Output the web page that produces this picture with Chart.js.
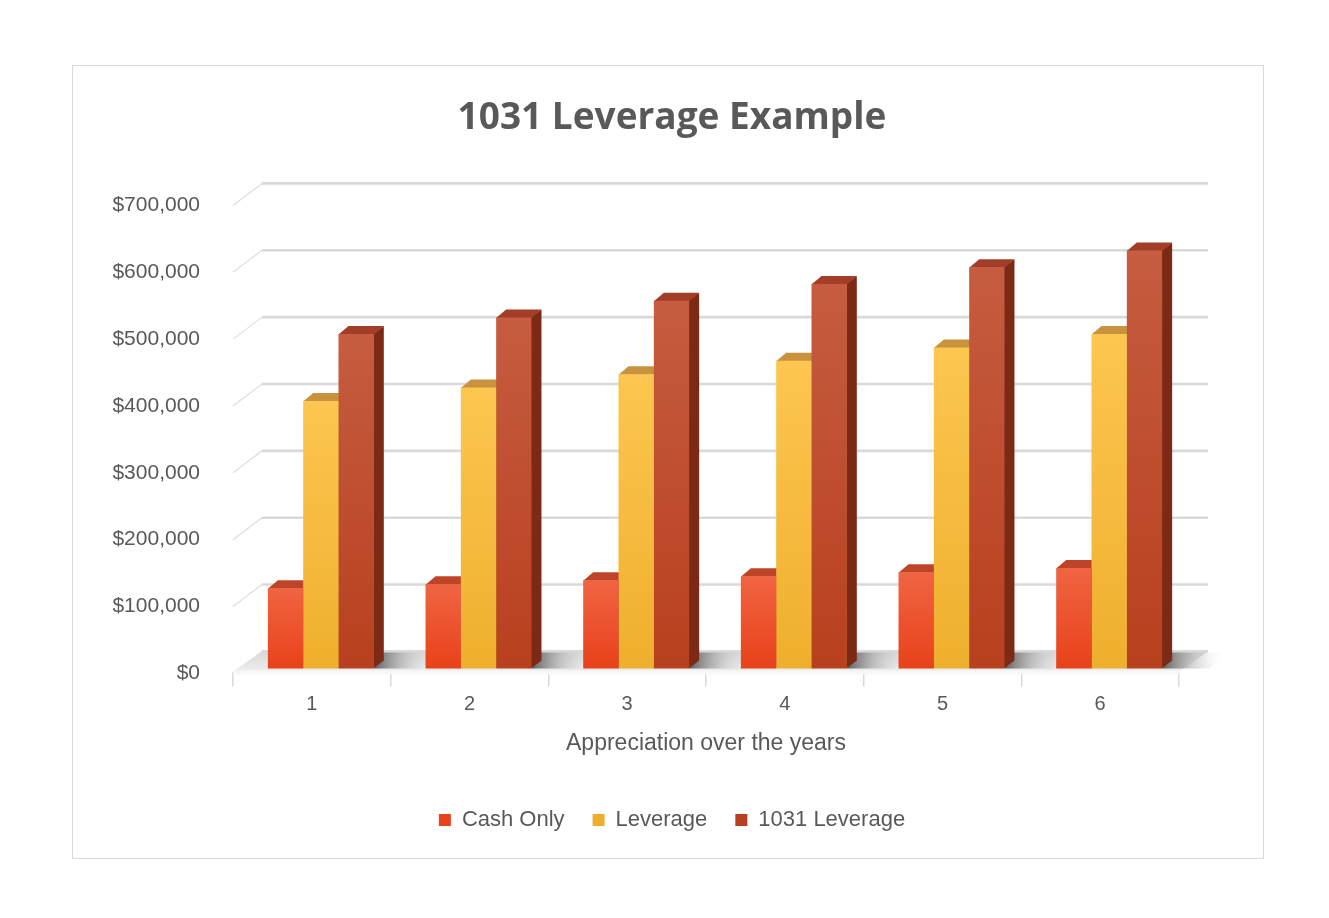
<!DOCTYPE html>
<html><head><meta charset="utf-8">
<script src="https://cdn.jsdelivr.net/npm/chart.js@4.4.1/dist/chart.umd.min.js"></script>
<style>html,body{margin:0;padding:0;background:#fff;}</style>
</head><body>
<canvas id="c" width="1329" height="918"></canvas>
<script>
const categories = ['1', '2', '3', '4', '5', '6'];
const cashOnly = [120000, 126000, 132000, 138000, 144000, 150000];
const leverage = [400000, 420000, 440000, 460000, 480000, 500000];
const leverage1031 = [500000, 525000, 550000, 575000, 600000, 625000];
const seriesNames = ['Cash Only', 'Leverage', '1031 Leverage'];
const yMin = 0, yMax = 700000, yStep = 100000;

const palette = [
  {top: '#F06442', bottom: '#E8421A', solid: '#E8461E', cap: '#BE4428', side: '#A0361E'},
  {top: '#FCC650', bottom: '#EFAF2E', solid: '#F2B536', cap: '#C8923E', side: '#B07A2A'},
  {top: '#C65C40', bottom: '#B8401E', solid: '#B94522', cap: '#A23E28', side: '#7C2A16'}
];
const DEPTH = {dx: 10, dy: -8};
const SHIFT = {x: 9, y: -5};
const WALL = {dx: 29, dy: -22};
const GRID = '#d9d9d9';
const TEXT = '#595959';

function frontFill(i) {
  return function (ctx) {
    if (ctx.type !== 'data') return palette[i].solid;
    const chart = ctx.chart, ys = chart.scales.y;
    if (!ys || !chart.chartArea) return palette[i].solid;
    const top = ys.getPixelForValue(ctx.raw), base = ys.getPixelForValue(0);
    const g = chart.ctx.createLinearGradient(0, top, 0, base);
    g.addColorStop(0, palette[i].top);
    g.addColorStop(1, palette[i].bottom);
    return g;
  };
}

const scene = {
  id: 'scene',
  beforeDraw(chart) {
    const c = chart.ctx;
    c.save();
    c.fillStyle = '#fff';
    c.fillRect(0, 0, chart.width, chart.height);
    c.strokeStyle = '#d9d9d9';
    c.lineWidth = 1;
    c.strokeRect(72.5, 65.5, 1191, 793);
    c.restore();
  },
  beforeDatasetsDraw(chart) {
    const c = chart.ctx, a = chart.chartArea, y = chart.scales.y;
    c.save();
    // back wall + left wall gridlines
    y.ticks.forEach(t => {
      const yy = y.getPixelForValue(t.value);
      c.strokeStyle = '#dedede';
      c.lineWidth = 1.2;
      c.beginPath();
      c.moveTo(a.left, yy);
      c.lineTo(a.left + WALL.dx, yy + WALL.dy);
      c.stroke();
      c.strokeStyle = GRID;
      c.lineWidth = 2.6;
      c.beginPath();
      c.moveTo(a.left + WALL.dx, yy + WALL.dy);
      c.lineTo(a.right + WALL.dx, yy + WALL.dy);
      c.stroke();
    });
    // floor
    const y0 = y.getPixelForValue(0);
    const fg = c.createLinearGradient(0, y0 + WALL.dy, 0, y0);
    fg.addColorStop(0, '#d8d8d8');
    fg.addColorStop(1, '#f0f0f0');
    c.fillStyle = fg;
    c.beginPath();
    c.moveTo(a.left, y0 - 2);
    c.lineTo(a.right, y0 - 2);
    c.lineTo(a.right + WALL.dx, y0 + WALL.dy);
    c.lineTo(a.left + WALL.dx, y0 + WALL.dy);
    c.closePath();
    c.fill();
    c.fillStyle = '#f7f7f7';
    c.fillRect(a.left, y0 - 3, a.right - a.left, 4);
    // bar shadows on the floor
    const meta = chart.getDatasetMeta(2);
    meta.data.forEach(bar => {
      const p = bar.getProps(['x', 'width'], true);
      const r = p.x + p.width / 2 + SHIFT.x;
      const sg = c.createLinearGradient(r, 0, r + 60, 0);
      sg.addColorStop(0, 'rgba(70,70,70,0.85)');
      sg.addColorStop(0.45, 'rgba(150,150,150,0.5)');
      sg.addColorStop(1, 'rgba(230,230,230,0)');
      c.fillStyle = sg;
      c.beginPath();
      c.moveTo(r, y0 + SHIFT.y);
      c.lineTo(r + 48, y0 + SHIFT.y);
      c.lineTo(r + 62, y0 + WALL.dy + 1);
      c.lineTo(r + DEPTH.dx, y0 + WALL.dy + 1);
      c.closePath();
      c.fill();
    });
    c.restore();
    c.save();
    c.translate(SHIFT.x, SHIFT.y);
    // side and top faces of every bar, drawn before all front faces
    chart.data.datasets.forEach((d, i) => {
      const col = palette[i];
      chart.getDatasetMeta(i).data.forEach(bar => {
        const p = bar.getProps(['x', 'y', 'base', 'width'], true);
        const l = p.x - p.width / 2, r = p.x + p.width / 2, t = p.y, b = p.base;
        c.fillStyle = col.side;
        c.beginPath();
        c.moveTo(r - 0.5, t);
        c.lineTo(r + DEPTH.dx, t + DEPTH.dy);
        c.lineTo(r + DEPTH.dx, b + DEPTH.dy);
        c.lineTo(r - 0.5, b);
        c.closePath();
        c.fill();
        c.fillStyle = col.cap;
        c.beginPath();
        c.moveTo(l, t + 0.5);
        c.lineTo(l + DEPTH.dx, t + DEPTH.dy);
        c.lineTo(r + DEPTH.dx, t + DEPTH.dy);
        c.lineTo(r, t + 0.5);
        c.closePath();
        c.fill();
      });
    });
  },
  afterDatasetsDraw(chart) {
    chart.ctx.restore();
  }
};

const ds = [cashOnly, leverage, leverage1031].map((vals, i) => ({
  label: seriesNames[i],
  data: vals,
  backgroundColor: frontFill(i),
  borderWidth: 0,
  clip: false,
  categoryPercentage: 0.672,
  barPercentage: 1.0
}));

const font = 'Liberation Sans';

new Chart(document.getElementById('c'), {
  type: 'bar',
  data: {labels: categories, datasets: ds},
  options: {
    responsive: false,
    animation: false,
    devicePixelRatio: 1,
    layout: {padding: {top: 96, left: 100, right: 85, bottom: 77}},
    plugins: {
      title: {
        display: true,
        text: '1031 Leverage Example',
        color: TEXT,
        font: {family: 'Open Sans', size: 37, weight: 'bold'},
        padding: {top: 0, bottom: 65}
      },
      legend: {
        position: 'bottom',
        labels: {
          color: TEXT,
          font: {family: font, size: 22},
          boxWidth: 12,
          boxHeight: 12,
          padding: 28
        }
      },
      tooltip: {enabled: false}
    },
    scales: {
      x: {
        grid: {display: true, drawOnChartArea: false, offset: true, tickLength: 13, color: GRID, lineWidth: 1.5},
        border: {display: true, color: '#dcdcdc', width: 2},
        ticks: {color: TEXT, font: {family: font, size: 20}, padding: 6},
        title: {display: true, text: 'Appreciation over the years', color: TEXT,
          font: {family: font, size: 23}, padding: {top: 7, bottom: 24}}
      },
      y: {
        min: yMin, max: yMax,
        grid: {display: false},
        border: {display: false},
        ticks: {
          stepSize: yStep,
          color: TEXT,
          font: {family: font, size: 21},
          padding: 25,
          callback: v => '$' + Number(v).toLocaleString('en-US')
        },
        afterFit(scale) { scale.width = 133; }
      },
      yRight: {
        position: 'right',
        display: true,
        grid: {display: false},
        border: {display: false},
        ticks: {display: false},
        afterFit(scale) { scale.width = 65; }
      }
    }
  },
  plugins: [scene]
});
</script>
</body></html>
